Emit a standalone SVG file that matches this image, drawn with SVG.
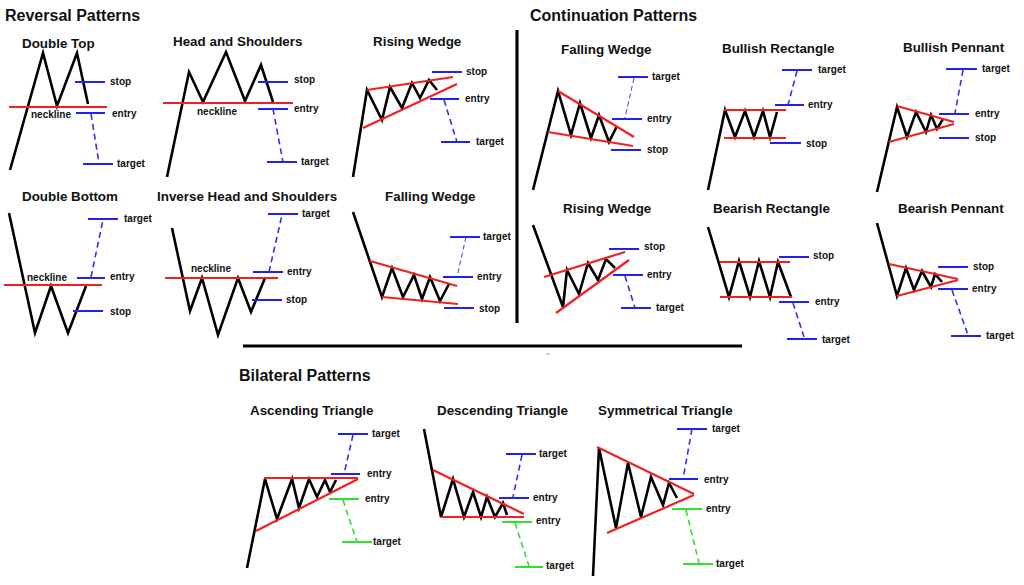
<svg xmlns="http://www.w3.org/2000/svg" width="1024" height="585" viewBox="0 0 1024 585">
<style>
.k{fill:none;stroke:#000;stroke-width:2.6;stroke-linejoin:miter;stroke-linecap:butt}
.r{fill:none;stroke:#f02020;stroke-width:2.2}
.b{fill:none;stroke:#2020f0;stroke-width:2}
.bd{fill:none;stroke:#3030f0;stroke-width:1.6;stroke-dasharray:6 4}
.bt{fill:none;stroke:#4040f0;stroke-width:1;stroke-dasharray:5 3}
.g{fill:none;stroke:#30e030;stroke-width:2}
.gd{fill:none;stroke:#30e030;stroke-width:1.6;stroke-dasharray:6 4}
.dv{fill:none;stroke:#000;stroke-width:3.2}
text{font-family:"Liberation Sans",Arial,sans-serif;font-weight:bold;fill:#111}
.t1{font-size:16px}
.t2{font-size:13.4px}
.lb{font-size:10px}
</style>
<rect width="1024" height="585" fill="#fff"/>

<g id="dividers">
<line class="dv" x1="517" y1="30" x2="517" y2="323"/>
<line class="dv" x1="243" y1="346" x2="742" y2="346"/>
<line x1="546" y1="354" x2="550" y2="354" stroke="#999" stroke-width="1"/>
</g>

<g id="section-titles">
<text class="t1" x="5" y="21">Reversal Patterns</text>
<text class="t1" x="530" y="21">Continuation Patterns</text>
<text class="t1" x="239" y="381">Bilateral Patterns</text>
</g>

<g id="double-top">
<text class="t2" x="22" y="48">Double Top</text>
<polyline class="k" points="10,170 43,53 57,106 77,53 88,104"/>
<line class="r" x1="9" y1="107" x2="107" y2="107"/>
<text class="lb" x="31" y="118">neckline</text>
<line class="b" x1="75" y1="82" x2="105" y2="82"/>
<text class="lb" x="110" y="85">stop</text>
<line class="b" x1="76" y1="113" x2="105" y2="113"/>
<text class="lb" x="112" y="117">entry</text>
<line class="bd" x1="91" y1="114" x2="99" y2="163"/>
<line class="b" x1="83" y1="164" x2="113" y2="164"/>
<text class="lb" x="117" y="167">target</text>
</g>

<g id="head-and-shoulders">
<text class="t2" x="173" y="46">Head and Shoulders</text>
<polyline class="k" points="167,177 189,72 203,102 226,52 245,101 261,65 273,102"/>
<line class="r" x1="163" y1="103" x2="293" y2="103"/>
<text class="lb" x="197" y="115">neckline</text>
<line class="b" x1="258" y1="82" x2="288" y2="82"/>
<text class="lb" x="294" y="83">stop</text>
<line class="b" x1="258" y1="109" x2="288" y2="109"/>
<text class="lb" x="294" y="112">entry</text>
<line class="bd" x1="273" y1="109" x2="283" y2="162"/>
<line class="b" x1="267" y1="162" x2="297" y2="162"/>
<text class="lb" x="301" y="165">target</text>
</g>

<g id="rising-wedge-reversal">
<text class="t2" x="373" y="46">Rising Wedge</text>
<polyline class="k" points="353,177 367,90 382,120 390,87 402,108 412,83 420,98 429,80 437,90"/>
<line class="r" x1="367" y1="90" x2="453" y2="77"/>
<line class="r" x1="363" y1="128" x2="457" y2="84"/>
<line class="b" x1="432" y1="72" x2="462" y2="72"/>
<text class="lb" x="466" y="75">stop</text>
<line class="b" x1="430" y1="99" x2="459" y2="99"/>
<text class="lb" x="465" y="102">entry</text>
<line class="bd" x1="444" y1="100" x2="457" y2="142"/>
<line class="b" x1="441" y1="142" x2="470" y2="142"/>
<text class="lb" x="476" y="145">target</text>
</g>

<g id="double-bottom">
<text class="t2" x="22" y="201">Double Bottom</text>
<polyline class="k" points="9,213 35,333 51,286 68,333 86,286"/>
<line class="r" x1="4" y1="285" x2="102" y2="285"/>
<text class="lb" x="27" y="281">neckline</text>
<line class="b" x1="77" y1="278" x2="105" y2="278"/>
<text class="lb" x="110" y="280">entry</text>
<line class="bd" x1="91" y1="277" x2="103" y2="220"/>
<line class="b" x1="88" y1="219" x2="118" y2="219"/>
<text class="lb" x="124" y="222">target</text>
<line class="b" x1="73" y1="311" x2="103" y2="311"/>
<text class="lb" x="110" y="315">stop</text>
</g>

<g id="inverse-head-and-shoulders">
<text class="t2" x="157" y="201">Inverse Head and Shoulders</text>
<polyline class="k" points="172,228 190,311 202,278 218,335 238,278 251,312 265,278"/>
<line class="r" x1="165" y1="278" x2="278" y2="278"/>
<text class="lb" x="191" y="272">neckline</text>
<line class="b" x1="253" y1="272" x2="283" y2="272"/>
<text class="lb" x="287" y="275">entry</text>
<line class="bd" x1="269" y1="272" x2="282" y2="215"/>
<line class="b" x1="268" y1="214" x2="298" y2="214"/>
<text class="lb" x="302" y="217">target</text>
<line class="b" x1="252" y1="300" x2="282" y2="300"/>
<text class="lb" x="286" y="303">stop</text>
</g>

<g id="falling-wedge-reversal">
<text class="t2" x="385" y="201">Falling Wedge</text>
<polyline class="k" points="353,212 382,297 392,268 403,297 414,275 422,299 430,277 440,301 449,284"/>
<line class="r" x1="370" y1="261" x2="457" y2="286"/>
<line class="r" x1="382" y1="297" x2="458" y2="304"/>
<line class="b" x1="450" y1="237" x2="480" y2="237"/>
<text class="lb" x="483" y="240">target</text>
<line class="bt" x1="466" y1="237" x2="457" y2="277"/>
<line class="b" x1="443" y1="277" x2="473" y2="277"/>
<text class="lb" x="477" y="280">entry</text>
<line class="b" x1="444" y1="308" x2="474" y2="308"/>
<text class="lb" x="479" y="312">stop</text>
</g>

<g id="falling-wedge-continuation">
<text class="t2" x="561" y="54">Falling Wedge</text>
<polyline class="k" points="533,190 558,91 571,135 580,103 591,138 599,115 609,142 617,126"/>
<line class="r" x1="558" y1="91" x2="634" y2="137"/>
<line class="r" x1="548" y1="132" x2="633" y2="146"/>
<line class="b" x1="618" y1="77" x2="648" y2="77"/>
<text class="lb" x="652" y="80">target</text>
<line class="bt" x1="634" y1="78" x2="625" y2="118"/>
<line class="b" x1="612" y1="119" x2="642" y2="119"/>
<text class="lb" x="647" y="122">entry</text>
<line class="b" x1="611" y1="150" x2="641" y2="150"/>
<text class="lb" x="647" y="153">stop</text>
</g>

<g id="bullish-rectangle">
<text class="t2" x="722" y="53">Bullish Rectangle</text>
<polyline class="k" points="708,190 725,110 735,137 745,111 754,137 763,111 770,137 777,112"/>
<line class="r" x1="724" y1="110" x2="786" y2="110"/>
<line class="r" x1="724" y1="138" x2="786" y2="138"/>
<line class="b" x1="782" y1="70" x2="812" y2="70"/>
<text class="lb" x="818" y="73">target</text>
<line class="bd" x1="797" y1="71" x2="788" y2="105"/>
<line class="b" x1="775" y1="105" x2="804" y2="105"/>
<text class="lb" x="808" y="108">entry</text>
<line class="b" x1="770" y1="143" x2="801" y2="143"/>
<text class="lb" x="806" y="147">stop</text>
</g>

<g id="bullish-pennant">
<text class="t2" x="903" y="52">Bullish Pennant</text>
<polyline class="k" points="877,192 897,107 907,137 916,112 926,132 931,115 937,129 943,119"/>
<line class="r" x1="897" y1="106" x2="954" y2="122"/>
<line class="r" x1="889" y1="142" x2="954" y2="124"/>
<line class="b" x1="946" y1="69" x2="977" y2="69"/>
<text class="lb" x="982" y="72">target</text>
<line class="bd" x1="963" y1="70" x2="955" y2="113"/>
<line class="b" x1="939" y1="114" x2="969" y2="114"/>
<text class="lb" x="975" y="117">entry</text>
<line class="b" x1="939" y1="138" x2="969" y2="138"/>
<text class="lb" x="975" y="141">stop</text>
</g>

<g id="rising-wedge-continuation">
<text class="t2" x="563" y="213">Rising Wedge</text>
<polyline class="k" points="533,225 563,307 567,270 579,294 588,263 598,280 606,259 615,268"/>
<line class="r" x1="544" y1="277" x2="625" y2="252"/>
<line class="r" x1="556" y1="313" x2="629" y2="260"/>
<line class="b" x1="609" y1="249" x2="639" y2="249"/>
<text class="lb" x="644" y="250">stop</text>
<line class="b" x1="613" y1="275" x2="643" y2="275"/>
<text class="lb" x="647" y="278">entry</text>
<line class="bd" x1="625" y1="276" x2="635" y2="308"/>
<line class="b" x1="621" y1="308" x2="651" y2="308"/>
<text class="lb" x="656" y="311">target</text>
</g>

<g id="bearish-rectangle">
<text class="t2" x="713" y="213">Bearish Rectangle</text>
<polyline class="k" points="708,227 729,297 739,261 750,297 759,261 770,297 778,262 791,297"/>
<line class="r" x1="720" y1="262" x2="790" y2="262"/>
<line class="r" x1="720" y1="297" x2="792" y2="297"/>
<line class="b" x1="779" y1="257" x2="809" y2="257"/>
<text class="lb" x="813" y="259">stop</text>
<line class="b" x1="779" y1="302" x2="809" y2="302"/>
<text class="lb" x="815" y="305">entry</text>
<line class="bd" x1="793" y1="303" x2="804" y2="337"/>
<line class="b" x1="787" y1="339" x2="817" y2="339"/>
<text class="lb" x="822" y="343">target</text>
</g>

<g id="bearish-pennant">
<text class="t2" x="898" y="213">Bearish Pennant</text>
<polyline class="k" points="877,223 897,296 906,268 914,290 922,271 931,287 935,274 942,282"/>
<line class="r" x1="889" y1="264" x2="958" y2="279"/>
<line class="r" x1="897" y1="296" x2="958" y2="280"/>
<line class="b" x1="938" y1="267" x2="968" y2="267"/>
<text class="lb" x="973" y="270">stop</text>
<line class="b" x1="938" y1="289" x2="968" y2="289"/>
<text class="lb" x="972" y="292">entry</text>
<line class="bd" x1="952" y1="290" x2="968" y2="335"/>
<line class="b" x1="951" y1="336" x2="981" y2="336"/>
<text class="lb" x="986" y="339">target</text>
</g>

<g id="ascending-triangle">
<text class="t2" x="250" y="415">Ascending Triangle</text>
<polyline class="k" points="247,568 265,479 277,519 292,479 299,508 309,479 317,497 325,480 330,492 336,480"/>
<line class="r" x1="264" y1="478" x2="358" y2="478"/>
<line class="r" x1="256" y1="531" x2="358" y2="479"/>
<line class="b" x1="338" y1="434" x2="368" y2="434"/>
<text class="lb" x="372" y="437">target</text>
<line class="bd" x1="353" y1="435" x2="344" y2="474"/>
<line class="b" x1="331" y1="474" x2="360" y2="474"/>
<text class="lb" x="367" y="477">entry</text>
<line class="g" x1="329" y1="499" x2="359" y2="499"/>
<text class="lb" x="365" y="502">entry</text>
<line class="gd" x1="343" y1="500" x2="357" y2="542"/>
<line class="g" x1="342" y1="542" x2="372" y2="542"/>
<text class="lb" x="373" y="545">target</text>
</g>

<g id="descending-triangle">
<text class="t2" x="437" y="415">Descending Triangle</text>
<polyline class="k" points="424,429 441,517 453,479 464,517 473,492 481,517 487,497 495,517 503,503 507,515"/>
<line class="r" x1="433" y1="470" x2="524" y2="514"/>
<line class="r" x1="441" y1="517" x2="524" y2="517"/>
<line class="b" x1="506" y1="454" x2="536" y2="454"/>
<text class="lb" x="539" y="457">target</text>
<line class="bd" x1="522" y1="455" x2="513" y2="497"/>
<line class="b" x1="499" y1="498" x2="529" y2="498"/>
<text class="lb" x="533" y="501">entry</text>
<line class="g" x1="502" y1="522" x2="532" y2="522"/>
<text class="lb" x="536" y="524">entry</text>
<line class="gd" x1="515" y1="523" x2="529" y2="566"/>
<line class="g" x1="515" y1="567" x2="543" y2="567"/>
<text class="lb" x="546" y="569">target</text>
</g>

<g id="symmetrical-triangle">
<text class="t2" x="598" y="415">Symmetrical Triangle</text>
<polyline class="k" points="593,576 599,448 616,528 628,463 641,517 651,477 663,505 669,483 677,498"/>
<line class="r" x1="597" y1="447" x2="694" y2="494"/>
<line class="r" x1="607" y1="533" x2="694" y2="495"/>
<line class="b" x1="677" y1="429" x2="707" y2="429"/>
<text class="lb" x="712" y="432">target</text>
<line class="bd" x1="692" y1="429" x2="683" y2="479"/>
<line class="b" x1="669" y1="479" x2="698" y2="479"/>
<text class="lb" x="704" y="483">entry</text>
<line class="g" x1="672" y1="509" x2="702" y2="509"/>
<text class="lb" x="706" y="512">entry</text>
<line class="gd" x1="686" y1="510" x2="699" y2="563"/>
<line class="g" x1="683" y1="564" x2="713" y2="564"/>
<text class="lb" x="716" y="567">target</text>
</g>
</svg>
